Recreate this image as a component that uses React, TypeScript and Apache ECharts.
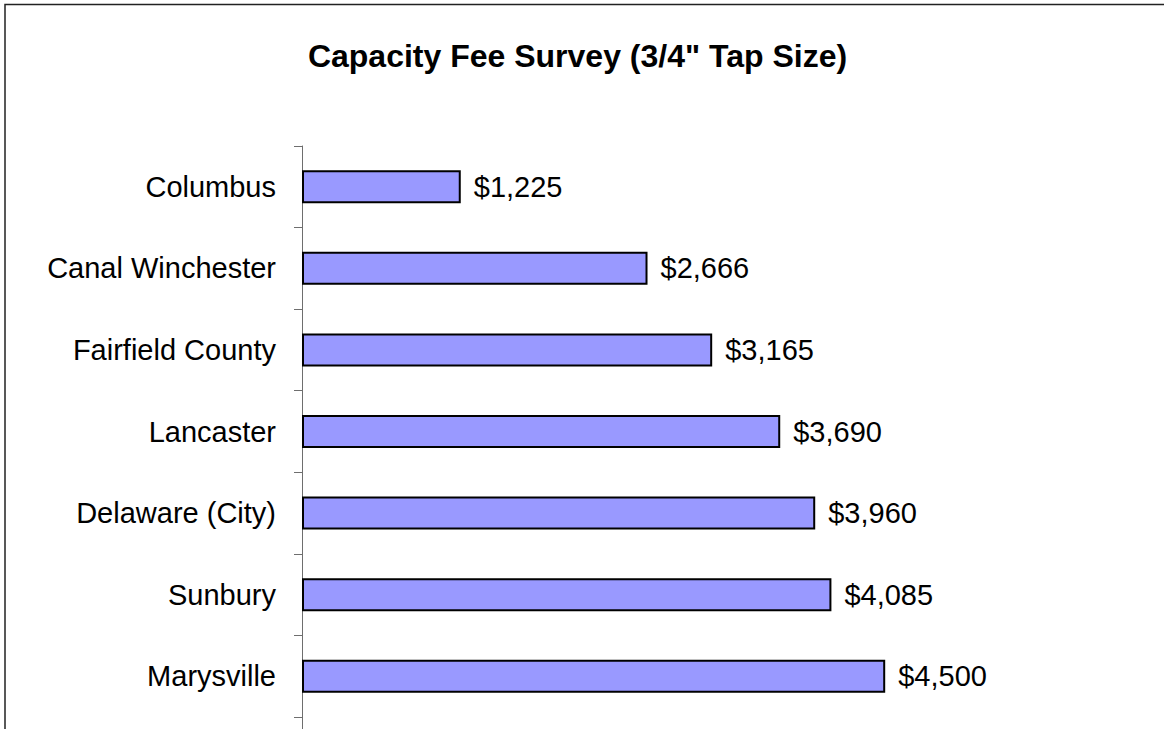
import React, { useEffect, useRef } from "react";
import * as echarts from "echarts";

const categories = [
  "Columbus",
  "Canal Winchester",
  "Fairfield County",
  "Lancaster",
  "Delaware (City)",
  "Sunbury",
  "Marysville",
];
const fees = [1225, 2666, 3165, 3690, 3960, 4085, 4500];
const titleText = 'Capacity Fee Survey (3/4" Tap Size)';

const FONT = "'Liberation Sans', Arial, sans-serif";

export default function App() {
  const ref = useRef<HTMLDivElement>(null);
  useEffect(() => {
    document.body.style.margin = "0";
    const chart = echarts.init(ref.current!, null, { renderer: "svg" });
    chart.setOption({
      animation: false,
      backgroundColor: "#ffffff",
      grid: { left: 302, right: 214, top: 146, bottom: 12, containLabel: false },
      xAxis: {
        type: "value",
        min: 0,
        max: 5000,
        show: false,
      },
      yAxis: {
        type: "category",
        data: categories,
        inverse: true,
        axisLine: { show: true, lineStyle: { color: "#6e6e6e", width: 1 } },
        axisTick: { show: true, length: 8, inside: false, lineStyle: { color: "#6e6e6e", width: 1 } },
        axisLabel: { margin: 26, color: "#000", fontSize: 29, fontFamily: FONT },
        splitLine: { show: false },
      },
      series: [
        {
          type: "bar",
          data: fees,
          barWidth: 33,
          itemStyle: { color: "#9999ff", borderColor: "#000", borderWidth: 2 },
          label: {
            show: true,
            position: "right",
            distance: 13,
            color: "#000",
            fontSize: 29,
            fontFamily: FONT,
            formatter: (p: any) => "$" + Number(p.value).toLocaleString("en-US"),
          },
        },
      ],
      graphic: [
        {
          type: "rect",
          silent: true,
          shape: { x: 5, y: 4.5, width: 1300, height: 900 },
          style: { fill: "none", stroke: "#222", lineWidth: 1.5 },
        },
        {
          type: "line",
          silent: true,
          shape: { x1: 302.5, y1: 717, x2: 302.5, y2: 729 },
          style: { stroke: "#6e6e6e", lineWidth: 1 },
        },
        {
          type: "text",
          x: 577.5,
          y: 56,
          style: {
            text: titleText,
            fontSize: 32,
            fontWeight: "bold",
            fontFamily: FONT,
            fill: "#000",
            align: "center",
            verticalAlign: "middle",
          },
        },
      ],
    });
    return () => chart.dispose();
  }, []);
  return <div ref={ref} style={{ width: 1164, height: 729 }} />;
}
